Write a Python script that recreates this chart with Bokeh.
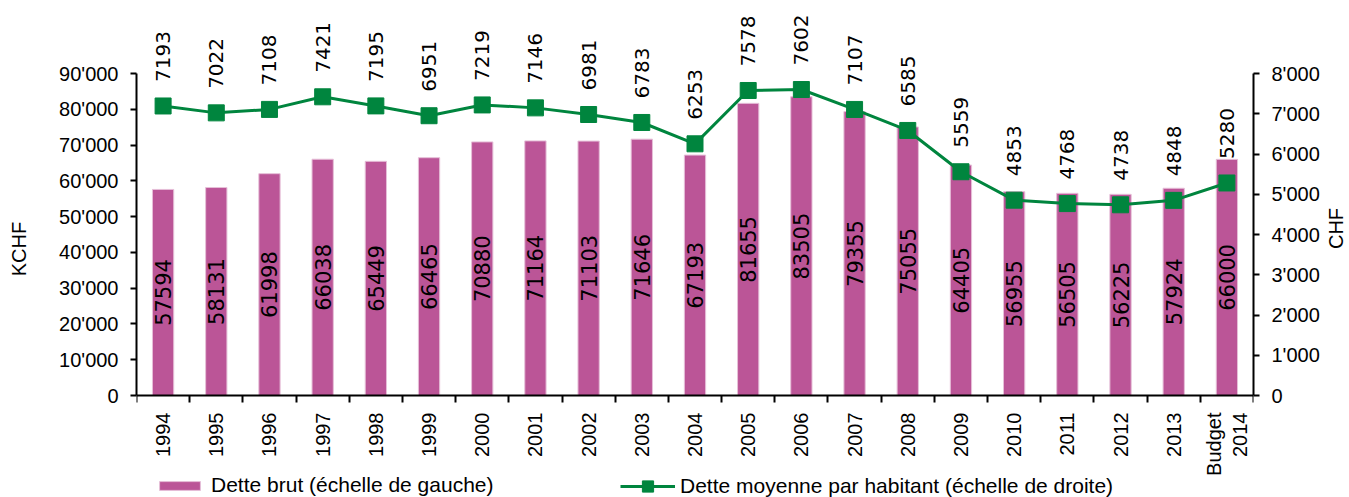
import math
from bokeh.plotting import figure
from bokeh.models import (Range1d, LinearAxis, FixedTicker, ColumnDataSource,
                          Legend, LegendItem)
from bokeh.embed import file_html
from bokeh.resources import INLINE
from bokeh.core.properties import value

categories = ["1994", "1995", "1996", "1997", "1998", "1999", "2000", "2001",
              "2002", "2003", "2004", "2005", "2006", "2007", "2008", "2009",
              "2010", "2011", "2012", "2013", "Budget\n2014"]
debt_kchf = [57594, 58131, 61998, 66038, 65449, 66465, 70880, 71164, 71103,
             71646, 67193, 81655, 83505, 79355, 75055, 64405, 56955, 56505,
             56225, 57924, 66000]
debt_per_capita = [7193, 7022, 7108, 7421, 7195, 6951, 7219, 7146, 6981, 6783,
                   6253, 7578, 7602, 7107, 6585, 5559, 4853, 4768, 4738, 4848,
                   5280]
left_ticks = [0, 10000, 20000, 30000, 40000, 50000, 60000, 70000, 80000, 90000]
left_tick_labels = ["0", "10'000", "20'000", "30'000", "40'000", "50'000",
                    "60'000", "70'000", "80'000", "90'000"]
right_ticks = [0, 1000, 2000, 3000, 4000, 5000, 6000, 7000, 8000]
right_tick_labels = ["0", "1'000", "2'000", "3'000", "4'000", "5'000",
                     "6'000", "7'000", "8'000"]
series_names = ["Dette brut (échelle de gauche)",
                "Dette moyenne par habitant (échelle de droite)"]
left_title = "KCHF"
right_title = "CHF"

BAR = "#BB5597"
GREEN = "#00853E"
AX_FONT = "Liberation Sans"
LBL_FONT = "DejaVu Sans"

# The frame covers the whole height of the canvas (so that value labels and
# the legend are not clipped); the x axis sits at y = 0 and the y axes are
# bounded to their real extents.
AXIS_PX = 322      # pixel length of the 0..max axes
TOP_PX = 395       # pixels from canvas top to the zero line
FRAME_H = 497
BOTTOM_PX = FRAME_H - TOP_PX
LABEL_GAP_PX = 24  # gap between a marker centre and its value label
left_max = left_ticks[-1]
right_max = right_ticks[-1]
gap_units = LABEL_GAP_PX * right_max / AXIS_PX

n = len(categories)
xs = list(range(n))
src = ColumnDataSource(dict(
    x=xs,
    debt=debt_kchf,
    mid=[d / 2 for d in debt_kchf],
    debt_txt=[str(d) for d in debt_kchf],
    pc=debt_per_capita,
    pc_lbl=[v + gap_units for v in debt_per_capita],
    pc_txt=[str(v) for v in debt_per_capita],
))

p = figure(frame_width=1117, frame_height=FRAME_H,
           x_range=Range1d(-0.5, n - 0.5),
           y_range=Range1d(-left_max * BOTTOM_PX / AXIS_PX,
                           left_max * TOP_PX / AXIS_PX),
           output_backend="svg", toolbar_location=None,
           min_border_left=136, min_border_top=0, min_border_right=90,
           min_border_bottom=0)
p.extra_y_ranges = {"r": Range1d(-right_max * BOTTOM_PX / AXIS_PX,
                                 right_max * TOP_PX / AXIS_PX)}
p.outline_line_color = None
p.xgrid.visible = False
p.ygrid.visible = False

bars = p.vbar(x="x", top="debt", width=0.4, source=src, fill_color=BAR,
              line_color="#E6BFD8", line_width=1)
p.text(x="x", y="mid", text="debt_txt", source=src, angle=math.pi / 2,
       text_align="center", text_baseline="middle",
       text_font=value(LBL_FONT), text_font_size="21px", text_color="black")

line_r = p.line(x="x", y="pc", source=src, y_range_name="r", line_width=3,
                line_color=GREEN)
pts = p.scatter(x="x", y="pc", source=src, y_range_name="r", marker="square",
                size=16, fill_color=GREEN, line_color=GREEN)

p.text(x="x", y="pc_lbl", text="pc_txt", source=src, y_range_name="r",
       angle=math.pi / 2, text_align="left", text_baseline="middle",
       text_font=value(LBL_FONT), text_font_size="20px", text_color="black")

# x axis, drawn at y = 0
xa = p.xaxis[0]
xa.fixed_location = 0
xa.ticker = FixedTicker(ticks=xs, minor_ticks=[i - 0.5 for i in range(n + 1)])
xa.major_label_overrides = {i: c for i, c in enumerate(categories)}
xa.major_label_orientation = math.pi / 2
xa.major_tick_out = 0
xa.major_tick_in = 0
xa.minor_tick_out = 7
xa.minor_tick_in = 0
xa.minor_tick_line_color = "black"
xa.minor_tick_line_width = 2
xa.axis_line_width = 2
xa.axis_line_color = "black"
xa.major_label_standoff = 10
xa.axis_label_standoff = 0
xa.major_label_text_font = AX_FONT
xa.major_label_text_font_size = "20px"
xa.major_label_text_color = "black"

# left axis
ya = p.yaxis[0]
ya.ticker = FixedTicker(ticks=left_ticks)
ya.major_label_overrides = {t: l for t, l in zip(left_ticks, left_tick_labels)}
ya.axis_label = left_title
ya.bounds = (0, left_max)

ra = LinearAxis(y_range_name="r", ticker=FixedTicker(ticks=right_ticks),
                axis_label=right_title, bounds=(0, right_max))
ra.major_label_overrides = {t: l for t, l in zip(right_ticks, right_tick_labels)}
p.add_layout(ra, "right")
if "axis_label_orientation" in ra.properties():
    ra.axis_label_orientation = math.pi / 2

for ax in (ya, ra):
    ax.major_tick_out = 6
    ax.major_tick_in = 0
    ax.minor_tick_out = 0
    ax.minor_tick_in = 0
    ax.major_tick_line_width = 2
    ax.major_tick_line_color = "black"
    ax.axis_line_width = 2
    ax.axis_line_color = "black"
    ax.major_label_standoff = 12
    ax.major_label_text_font = AX_FONT
    ax.major_label_text_font_size = "20px"
    ax.major_label_text_color = "black"
    ax.axis_label_text_font = AX_FONT
    ax.axis_label_text_font_size = "20px"
    ax.axis_label_text_font_style = "normal"
    ax.axis_label_text_color = "black"
ra.axis_label_standoff = 13
ya.axis_label_standoff = 26

legend_style = dict(orientation="horizontal", label_text_font=AX_FONT,
                    label_text_font_size="21px", label_text_color="black",
                    label_height=12, padding=0, margin=0,
                    border_line_alpha=0, background_fill_alpha=0)
legend_bar = Legend(items=[LegendItem(label=series_names[0], renderers=[bars])],
                    location=(18, 0), glyph_width=51, glyph_height=11,
                    label_standoff=6, **legend_style)
legend_line = Legend(items=[LegendItem(label=series_names[1],
                                       renderers=[line_r, pts])],
                     location=(484, -3), glyph_width=55, glyph_height=28,
                     label_standoff=5, **legend_style)
p.add_layout(legend_bar, "center")
p.add_layout(legend_line, "center")

open("out.html", "w").write(file_html(p, INLINE))
